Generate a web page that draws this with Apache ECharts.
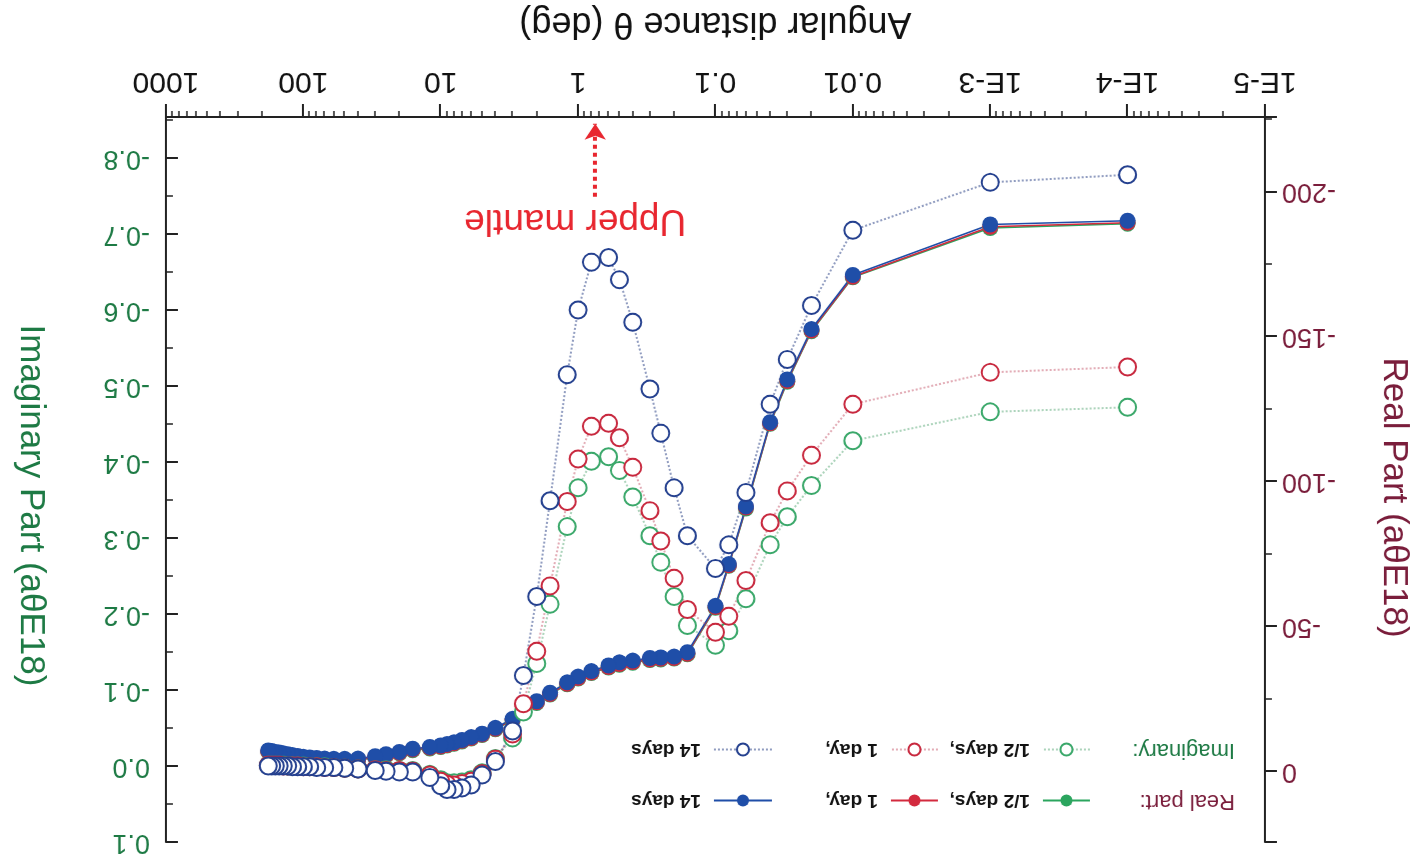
<!DOCTYPE html>
<html><head><meta charset="utf-8">
<script src="https://cdn.jsdelivr.net/npm/echarts@6/dist/echarts.min.js"></script>
<style>
html,body{margin:0;padding:0;background:#fff;overflow:hidden;}
#chart{width:1419px;height:865px;transform:rotate(180deg);transform-origin:50% 50%;}
</style></head><body><div id="chart"></div>
<script>
// Angular distances (deg)
const theta = [0.0001,0.001,0.01,0.02,0.03,0.04,0.06,0.08,0.1,0.16,0.2,0.25,0.3,0.4,0.5,0.6,0.8,1.0,1.2,1.6,2.0,2.5,3,4,5,6,7,8,9,10,12,16,20,25,30,40,50,60,70,80,90,100,110,120,130,140,150,160,170,180];

// Real part (aθE18)
const realHalfDay = [-189.0,-187.5,-170.5,-151.9,-134.4,-119.9,-90.7,-70.9,-56.4,-40.4,-38.9,-38.6,-38.4,-37.5,-36.8,-35.8,-33.9,-32.0,-30.0,-26.5,-23.6,-20.7,-17.6,-14.5,-12.5,-11.3,-10.3,-9.5,-8.9,-8.4,-7.9,-7.3,-6.2,-5.4,-4.7,-3.9,-3.8,-3.8,-3.9,-4.1,-4.3,-4.5,-4.8,-5.1,-5.4,-5.7,-6.0,-6.2,-6.5,-6.7];
const realOneDay  = [-189.3,-187.9,-170.7,-152.1,-134.7,-120.1,-91.0,-71.1,-56.7,-40.6,-39.1,-38.8,-38.6,-37.7,-37.0,-36.0,-34.1,-32.2,-30.2,-26.7,-23.8,-20.9,-17.8,-14.7,-12.7,-11.5,-10.5,-9.7,-9.1,-8.6,-8.1,-7.5,-6.4,-5.6,-4.9,-4.1,-4.0,-4.0,-4.1,-4.3,-4.5,-4.7,-5.0,-5.3,-5.6,-5.9,-6.2,-6.4,-6.7,-6.9];
const real14Days  = [-190.0,-188.7,-171.3,-152.6,-135.2,-120.5,-91.4,-71.5,-57.1,-41.1,-39.6,-39.3,-39.1,-38.2,-37.6,-36.5,-34.6,-32.7,-30.7,-27.1,-24.2,-21.3,-18.1,-15.0,-13.0,-11.8,-10.8,-10.0,-9.4,-8.9,-8.4,-7.8,-6.7,-5.9,-5.2,-4.4,-4.3,-4.3,-4.4,-4.6,-4.8,-5.0,-5.3,-5.6,-5.9,-6.2,-6.5,-6.7,-7.0,-7.2];

// Imaginary part (aθE18)
const imagHalfDay = [-0.472,-0.466,-0.428,-0.369,-0.328,-0.291,-0.220,-0.178,-0.159,-0.185,-0.223,-0.268,-0.303,-0.354,-0.389,-0.407,-0.401,-0.366,-0.315,-0.213,-0.135,-0.071,-0.037,-0.010,0.009,0.018,0.021,0.022,0.022,0.018,0.011,0.006,0.006,0.005,0.005,0.004,0.003,0.002,0.001,0.001,0.001,0.000,0.000,0.000,0.000,-0.001,-0.001,-0.001,-0.001,-0.001];
const imagOneDay  = [-0.525,-0.518,-0.476,-0.409,-0.362,-0.320,-0.244,-0.197,-0.176,-0.206,-0.247,-0.296,-0.336,-0.393,-0.432,-0.451,-0.447,-0.404,-0.348,-0.237,-0.151,-0.082,-0.042,-0.009,0.010,0.020,0.023,0.025,0.024,0.020,0.012,0.007,0.006,0.006,0.005,0.004,0.003,0.002,0.002,0.001,0.001,0.001,0.000,0.000,0.000,0.000,-0.001,-0.001,-0.001,-0.001];
const imag14Days  = [-0.778,-0.768,-0.705,-0.606,-0.535,-0.476,-0.360,-0.291,-0.260,-0.303,-0.366,-0.438,-0.496,-0.584,-0.640,-0.669,-0.663,-0.600,-0.515,-0.349,-0.223,-0.119,-0.046,-0.006,0.012,0.025,0.029,0.031,0.031,0.026,0.015,0.008,0.008,0.007,0.006,0.004,0.003,0.002,0.002,0.002,0.001,0.001,0.001,0.001,0.000,0.000,0.000,0.000,0.000,0.000];

// Tick labels
const xTickLabels = ['1E-5','1E-4','1E-3','0.01','0.1','1','10','100','1000'];
const minorMultipliers = [2,3,4,5,6,7,8,9];
const legendLabels = {'Re ½':'1/2 days,','Re 1':'1 day,','Re 14':'14 days','Im ½':'1/2 days,','Im 1':'1 day,','Im 14':'14 days'};

const FONT = 'Liberation Sans, Arial, sans-serif';
const BLUE = '#1f4ea8', RED = '#d32a3e', GREEN = '#2ba55e';
const MAROON = '#7a1d3b', DKGREEN = '#1d7a44';

const minorLogPos = [];
for (let d = -5; d < 3; d++) minorMultipliers.forEach(m => minorLogPos.push(Math.log10(m) + d));

const pairs = arr => theta.map((t, i) => [t, arr[i]]);

function realSeries(name, arr, color) {
  return {name, type:'line', xAxisIndex:0, yAxisIndex:0, data:pairs(arr),
    symbol:'circle', symbolSize:16, itemStyle:{color},
    lineStyle:{color, width:1.6}, emphasis:{disabled:true}};
}
function imagSeries(name, arr, color, lineColor, extra) {
  return Object.assign({name, type:'line', xAxisIndex:0, yAxisIndex:1, data:pairs(arr),
    symbol:'emptyCircle', symbolSize:17, itemStyle:{color, borderWidth:2},
    lineStyle:{color:lineColor, width:2, type:'dotted'}, emphasis:{disabled:true}}, extra || {});
}
function legendItem(name, left, top, w) {
  return {data:[name], orient:'horizontal', left, top, padding:0,
    itemWidth:w || 47, itemHeight:15, selectedMode:false,
    formatter: n => legendLabels[n],
    textStyle:{fontSize:19, fontWeight:'bold', color:'#111', fontFamily:FONT, padding:[0,0,0,8]}};
}

const chart = echarts.init(document.getElementById('chart'), null, {renderer:'canvas'});
chart.setOption({
  animation:false,
  backgroundColor:'#fff',
  textStyle:{fontFamily:FONT},
  grid:{left:153, right:166, top:23, bottom:115},
  xAxis:[{
    type:'log', logBase:10, min:1e-5, max:1000, splitNumber:8, position:'bottom',
    axisLine:{show:true, onZero:false, lineStyle:{color:'#222', width:2}},
    axisTick:{show:true, length:13, lineStyle:{color:'#222', width:2}},
    minorTick:{show:false}, splitLine:{show:false},
    axisLabel:{fontSize:30, color:'#111', margin:21, fontFamily:FONT,
      formatter: v => xTickLabels[Math.round(Math.log10(v)) + 5]},
    name:'Angular distance θ (deg)', nameLocation:'middle', nameGap:76,
    nameTextStyle:{fontSize:36, color:'#111', fontFamily:FONT}
  },{
    type:'value', min:-5, max:3, position:'bottom',
    axisLine:{show:false, onZero:false}, splitLine:{show:false}, axisLabel:{show:false},
    axisTick:{show:true, length:6, customValues:minorLogPos, lineStyle:{color:'#222', width:1.5}}
  }],
  yAxis:[{
    type:'value', position:'left', min:-225.8, max:24.4, splitNumber:5,
    axisLine:{show:true, onZero:false, lineStyle:{color:'#222', width:2}},
    axisTick:{show:true, length:12, lineStyle:{color:'#222', width:2}},
    minorTick:{show:true, splitNumber:2, length:7, lineStyle:{color:'#222', width:1.5}},
    splitLine:{show:false},
    axisLabel:{fontSize:27, color:MAROON, margin:17, showMinLabel:false, showMaxLabel:false, fontFamily:FONT},
    name:'Real Part (aθE18)', nameLocation:'middle', nameRotate:90, nameGap:111,
    nameTextStyle:{fontSize:35, color:MAROON, fontFamily:FONT, padding:[0,0,0,36]}
  },{
    type:'value', position:'right', min:-0.854, max:0.1, splitNumber:9,
    axisLine:{show:true, onZero:false, lineStyle:{color:'#222', width:2}},
    axisTick:{show:true, inside:true, length:12, lineStyle:{color:'#222', width:2}},
    minorTick:{show:true, splitNumber:2, length:7, lineStyle:{color:'#222', width:1.5}},
    splitLine:{show:false},
    axisLabel:{fontSize:27, color:DKGREEN, margin:16, showMinLabel:false, fontFamily:FONT,
      formatter: v => (Math.abs(v) < 1e-9 ? 0 : v).toFixed(1)},
    name:'Imaginary Part (aθE18)', nameLocation:'middle', nameRotate:90, nameGap:118,
    nameTextStyle:{fontSize:35, color:DKGREEN, fontFamily:FONT, padding:[0,0,0,52]}
  }],
  legend:[
    legendItem('Re ½', 328, 55), legendItem('Re 1', 480, 55), legendItem('Re 14', 646, 55, 58),
    legendItem('Im ½', 328, 106), legendItem('Im 1', 480, 106), legendItem('Im 14', 646, 106, 58)
  ],
  graphic:[
    {type:'text', left:184, top:53, style:{text:'Real part:', font:'22px ' + FONT, fill:MAROON}},
    {type:'text', left:184, top:104, style:{text:'Imaginary:', font:'22px ' + FONT, fill:DKGREEN}}
  ],
  series:[
    realSeries('Re ½', realHalfDay, GREEN),
    realSeries('Re 1', realOneDay, RED),
    realSeries('Re 14', real14Days, BLUE),
    imagSeries('Im ½', imagHalfDay, '#3aa86a', 'rgba(90,170,120,0.5)'),
    imagSeries('Im 1', imagOneDay, '#c8283e', 'rgba(200,90,110,0.5)'),
    imagSeries('Im 14', imag14Days, '#24408f', 'rgba(70,90,150,0.6)', {
      markLine:{silent:true, symbol:['none','arrow'], symbolSize:16,
        lineStyle:{color:'#e8262f', type:'dotted', width:4},
        label:{show:true, position:'start', formatter:'Upper mantle', color:'#e8262f',
          fontSize:37, fontFamily:FONT, distance:5, padding:[0,0,0,40]},
        data:[[{coord:[0.75, -0.749]}, {coord:[0.75, -0.845]}]]}
    })
  ]
});
</script></body></html>
